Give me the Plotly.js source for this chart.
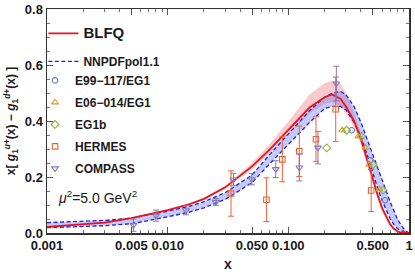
<!DOCTYPE html>
<html><head><meta charset="utf-8">
<script src="https://cdn.plot.ly/plotly-3.0.1.min.js"></script>
<style>html,body{margin:0;padding:0;background:#fff;}#chart{width:415px;height:272px;}</style>
</head><body><div id="chart"></div>
<script>
// ---- data ----
const xGrid      = [0.001,0.002,0.003,0.005,0.007,0.01,0.015,0.02,0.03,0.05,0.07,0.1,0.15,0.2,0.23,0.27,0.3,0.35,0.4,0.45,0.5,0.55,0.6,0.65,0.7,0.75,0.8,0.85,0.9,0.95,1.0];
const blfq       = [0.022,0.030,0.037,0.053,0.066,0.082,0.102,0.122,0.163,0.238,0.298,0.367,0.448,0.485,0.495,0.480,0.452,0.400,0.335,0.262,0.192,0.135,0.088,0.055,0.030,0.015,0.006,0.002,0.001,0.0,0.0];
const blfqUpper  = [0.024,0.032,0.039,0.055,0.068,0.084,0.104,0.125,0.169,0.250,0.318,0.398,0.495,0.535,0.545,0.535,0.500,0.430,0.358,0.282,0.208,0.150,0.100,0.064,0.037,0.019,0.009,0.004,0.001,0.0,0.0];
const blfqLower  = [0.020,0.028,0.035,0.051,0.064,0.080,0.100,0.119,0.158,0.228,0.284,0.350,0.428,0.462,0.468,0.452,0.428,0.378,0.315,0.243,0.175,0.120,0.076,0.045,0.024,0.011,0.004,0.001,0.0,0.0,0.0];
const nnpdfUpper = [0.037,0.041,0.045,0.053,0.064,0.078,0.095,0.112,0.144,0.207,0.280,0.355,0.437,0.485,0.499,0.506,0.494,0.452,0.395,0.335,0.280,0.228,0.185,0.145,0.110,0.080,0.050,0.032,0.016,0.006,0.0];
const nnpdfLower = [0.019,0.023,0.026,0.033,0.044,0.058,0.074,0.090,0.120,0.180,0.247,0.316,0.395,0.445,0.452,0.452,0.440,0.395,0.345,0.280,0.215,0.160,0.115,0.078,0.050,0.030,0.016,0.009,0.004,0.001,0.0];

const e99X   = [0.335,0.475,0.632];
const e99Y   = [0.367,0.260,0.117];
const e06X   = [0.280,0.380,0.437,0.469,0.567];
const e06Y   = [0.367,0.345,0.305,0.244,0.156];
const eg1bX  = [0.208,0.304,0.405,0.505,0.611];
const eg1bY  = [0.304,0.367,0.345,0.244,0.153];
const hermesX   = [0.0335,0.0658,0.0892,0.1233,0.1695,0.247,0.486];
const hermesY   = [0.141,0.119,0.263,0.292,0.335,0.442,0.152];
const hermesErr = [0.081,0.078,0.080,0.090,0.080,0.115,0.075];
const compassX   = [0.0052,0.0080,0.0142,0.0251,0.0351,0.0498,0.0787,0.1233,0.176,0.250];
const compassY   = [0.028,0.062,0.081,0.111,0.191,0.192,0.228,0.234,0.305,0.534];
const compassErr = [0.022,0.020,0.016,0.012,0.022,0.020,0.030,0.048,0.058,0.062];

const xTickVals = [0.001,0.005,0.01,0.05,0.1,0.5,1];
const xTickText = ['0.001','0.005','0.010','0.050','0.100','0.500','1'];
const xMinorVals = [0.002,0.003,0.004,0.006,0.007,0.008,0.009,0.02,0.03,0.04,0.06,0.07,0.08,0.09,0.2,0.3,0.4,0.6,0.7,0.8,0.9];
const yTickVals = [0,0.2,0.4,0.6,0.8];
const yTickText = ['0.0','0.2','0.4','0.6','0.8'];

// ---- colours ----
const cRed = '#e8141c', cBlue = '#1f1fe6';
const cE99 = '#5E81B5', cE06 = '#E19C24', cEG1b = '#8FB032', cHer = '#EB6235', cCom = '#8778B3';

const traces = [
  {x:xGrid, y:blfqLower, mode:'lines', line:{width:0}, showlegend:false, hoverinfo:'skip'},
  {x:xGrid, y:blfqUpper, mode:'lines', line:{width:0}, fill:'tonexty', fillcolor:'rgba(240,100,110,0.35)', showlegend:false, hoverinfo:'skip'},
  {x:xGrid, y:nnpdfLower, mode:'lines', line:{width:0}, showlegend:false, hoverinfo:'skip'},
  {x:xGrid, y:nnpdfUpper, mode:'lines', line:{width:0}, fill:'tonexty', fillcolor:'rgba(105,115,232,0.38)', showlegend:false, hoverinfo:'skip'},
  {x:xGrid, y:nnpdfLower, mode:'lines', line:{color:cBlue, width:1.3, dash:'4px,2.5px'}, showlegend:false},
  {x:xGrid, y:nnpdfUpper, mode:'lines', line:{color:cBlue, width:1.3, dash:'4px,2.5px'}, name:'NNPDFpol1.1', legend:'legend', legendgroup:'g2', legendrank:2},
  {x:xGrid, y:blfq, mode:'lines', line:{color:cRed, width:1.8}, name:'<span style="font-size:15px">BLFQ</span>', legend:'legend', legendgroup:'g1', legendrank:1},
  {x:e99X, y:e99Y, mode:'markers', marker:{symbol:'circle-open', size:5.5, color:cE99, line:{width:1.1}}, name:'E99\u2212117/EG1', legend:'legend2', legendgroup:'m1', legendrank:1},
  {x:e06X, y:e06Y, mode:'markers', marker:{symbol:'triangle-up-open', size:6, color:cE06, line:{width:1.1}}, name:'E06\u2212014/EG1', legend:'legend2', legendgroup:'m2', legendrank:2},
  {x:eg1bX, y:eg1bY, mode:'markers', marker:{symbol:'diamond-open', size:6, color:cEG1b, line:{width:1.1}}, name:'EG1b', legend:'legend2', legendgroup:'m3', legendrank:3},
  {x:hermesX, y:hermesY, mode:'markers', marker:{symbol:'square-open', size:5.5, color:cHer, line:{width:1.1}},
   error_y:{type:'data', array:hermesErr, visible:true, color:cHer, thickness:1, width:3}, name:'HERMES', legend:'legend2', legendgroup:'m4', legendrank:4},
  {x:compassX, y:compassY, mode:'markers', marker:{symbol:'triangle-down-open', size:6, color:cCom, line:{width:1.1}},
   error_y:{type:'data', array:compassErr, visible:true, color:cCom, thickness:1, width:3}, name:'COMPASS', legend:'legend2', legendgroup:'m5', legendrank:5}
];

const fontFam = 'Liberation Sans, Arial, sans-serif';
const tickFont = {family:fontFam, size:13, weight:'bold', color:'#1a1a1a'};
const layout = {
  width:415, height:272,
  margin:{l:47, r:6, t:9, b:39, pad:0},
  paper_bgcolor:'#fff', plot_bgcolor:'#fff',
  font:{family:fontFam, color:'#1a1a1a'},
  showlegend:true,
  xaxis:{type:'log', range:[-3,0], tickmode:'array', tickvals:xTickVals, ticktext:xTickText, tickangle:0,
    ticks:'inside', ticklen:6, tickwidth:1, tickcolor:'#555', showline:true, linecolor:'#333', linewidth:1.5,
    mirror:'allticks', showgrid:false, zeroline:false, tickfont:tickFont,
    minor:{tickmode:'array', tickvals:xMinorVals, ticks:'inside', ticklen:3, tickwidth:1, tickcolor:'#777', showgrid:false},
    title:{text:'<b>x</b>', font:{family:fontFam, size:14, color:'#1a1a1a'}, standoff:10}},
  yaxis:{range:[0,0.8], tickmode:'array', tickvals:yTickVals, ticktext:yTickText,
    ticks:'inside', ticklen:6, tickwidth:1, tickcolor:'#555', showline:true, linecolor:'#333', linewidth:1.5,
    mirror:'allticks', showgrid:false, zeroline:false, tickfont:tickFont,
    minor:{dtick:0.05, ticks:'inside', ticklen:3, tickwidth:1, tickcolor:'#777', showgrid:false},
    title:{text:'<b>x[ <i>g</i><sub>1</sub><sup><i>u</i>+</sup>(x) \u2212 <i>g</i><sub>1</sub><sup><i>d</i>+</sup>(x) ]</b>', font:{family:fontFam, size:12, color:'#1a1a1a'}, standoff:6}},
  legend:{x:-0.01, xanchor:'left', y:0.956, yanchor:'top', bgcolor:'rgba(0,0,0,0)', borderwidth:0,
    traceorder:'grouped', tracegroupgap:9, font:{family:fontFam, size:12, weight:'bold', color:'#1a1a1a'}},
  legend2:{x:-0.033, xanchor:'left', y:0.746, yanchor:'top', bgcolor:'rgba(0,0,0,0)', borderwidth:0,
    traceorder:'grouped', tracegroupgap:3, font:{family:fontFam, size:12, weight:'bold', color:'#1a1a1a'}},
  annotations:[{xref:'paper', yref:'paper', x:0.025, y:0.16, xanchor:'left', yanchor:'middle', showarrow:false,
    text:'<i>\u03bc</i><sup>2</sup>=5.0 GeV<sup>2</sup>', font:{family:fontFam, size:14, color:'#1a1a1a'}}]
};

Plotly.newPlot('chart', traces, layout, {displayModeBar:false, staticPlot:true});
</script>
</body></html>
